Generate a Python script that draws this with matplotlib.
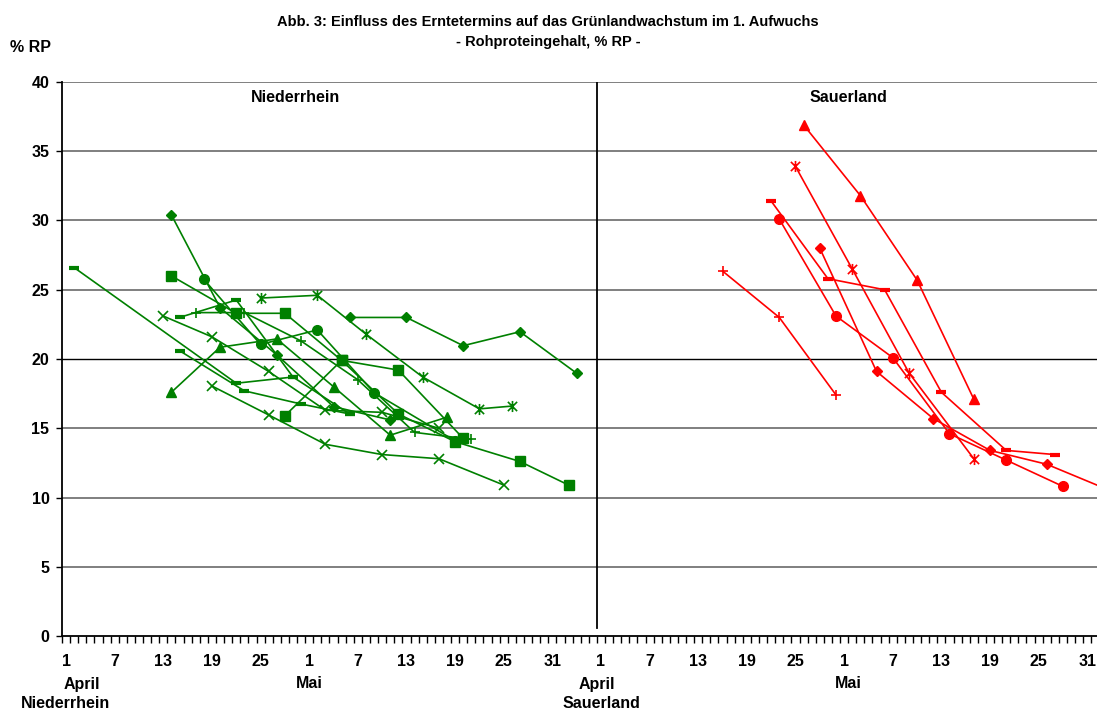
import matplotlib
matplotlib.use("Agg")
import matplotlib.pyplot as plt
from matplotlib.path import Path

plt.rcParams['font.family'] = ['Liberation Sans', 'DejaVu Sans']

# ---------------- data (x = running day index, 1 = 1 April Niederrhein, 67 = 1 April Sauerland)
tick_positions = [1, 7, 13, 19, 25, 31, 37, 43, 49, 55, 61,
                  67, 73, 79, 85, 91, 97, 103, 109, 115, 121, 127]
tick_labels = ["1", "7", "13", "19", "25", "1", "7", "13", "19", "25", "31",
               "1", "7", "13", "19", "25", "1", "7", "13", "19", "25", "31"]
y_ticks = [0, 5, 10, 15, 20, 25, 30, 35, 40]

# Niederrhein (green)
nr_diamond_a_x = [14, 20, 27, 34, 41]
nr_diamond_a_y = [30.4, 23.7, 20.3, 16.56, 15.6]
nr_diamond_b_x = [36, 43, 50, 57, 64]
nr_diamond_b_y = [23.0, 23.0, 20.96, 21.97, 18.97]
nr_square_a_x = [14, 22, 28, 35, 42, 49, 57, 63]
nr_square_a_y = [26.0, 23.3, 23.3, 19.9, 16.03, 14.03, 12.6, 10.9]
nr_square_b_x = [28, 35, 42, 50]
nr_square_b_y = [15.9, 19.9, 19.2, 14.27]
nr_triangle_x = [14, 20, 27, 34, 41, 48]
nr_triangle_y = [17.6, 20.85, 21.45, 18.0, 14.5, 15.8]
nr_x_a_x = [13, 19, 26, 33, 40, 47]
nr_x_a_y = [23.1, 21.6, 19.1, 16.3, 16.15, 15.0]
nr_x_b_x = [19, 26, 33, 40, 47, 55]
nr_x_b_y = [18.05, 15.96, 13.84, 13.1, 12.8, 10.9]
nr_star_x = [25, 32, 38, 45, 52, 56]
nr_star_y = [24.4, 24.6, 21.8, 18.7, 16.4, 16.6]
nr_circle_x = [18, 25, 32, 39, 49]
nr_circle_y = [25.75, 21.05, 22.1, 17.57, 14.1]
nr_plus_x = [17, 23, 30, 37, 44, 51]
nr_plus_y = [23.35, 23.35, 21.3, 18.5, 14.7, 14.2]
nr_dash_a_x = [2, 22, 29, 36]
nr_dash_a_y = [26.6, 18.25, 18.7, 16.03]
nr_dash_b_x = [15, 23, 30, 36]
nr_dash_b_y = [20.6, 17.7, 16.75, 16.03]
nr_dash_c_x = [15, 22, 29]
nr_dash_c_y = [23.0, 24.26, 18.7]

# Sauerland (red)
sl_triangle_x = [92, 99, 106, 113]
sl_triangle_y = [36.9, 31.8, 25.7, 17.1]
sl_star_x = [91, 98, 105, 113]
sl_star_y = [33.9, 26.5, 19.0, 12.8]
sl_dash_x = [88, 95, 102, 109, 117, 123]
sl_dash_y = [31.4, 25.8, 25.0, 17.6, 13.4, 13.1]
sl_circle_x = [89, 96, 103, 110, 117, 124]
sl_circle_y = [30.1, 23.1, 20.1, 14.6, 12.7, 10.8]
sl_diamond_x = [94, 101, 108, 115, 122, 129]
sl_diamond_y = [28.0, 19.1, 15.7, 13.4, 12.4, 10.7]
sl_plus_x = [82, 89, 96]
sl_plus_y = [26.35, 23.0, 17.4]

GREEN = "#008000"
RED = "#FF0000"

# Excel-like "star" marker: X with a vertical bar
star_path = Path([(-0.5, -0.5), (0.5, 0.5), (-0.5, 0.5), (0.5, -0.5), (0, -0.6), (0, 0.6)],
                 [Path.MOVETO, Path.LINETO, Path.MOVETO, Path.LINETO, Path.MOVETO, Path.LINETO])

styles = {
    "diamond": dict(marker="D", ms=5.5),
    "square": dict(marker="s", ms=6.5),
    "triangle": dict(marker="^", ms=7.5),
    "x": dict(marker="x", ms=6.5, mew=1.2),
    "star": dict(marker=star_path, ms=8, mew=1.2, mfc="none"),
    "circle": dict(marker="o", ms=7),
    "plus": dict(marker="+", ms=7.5, mew=1.2),
    "dash": dict(marker="_", ms=6.5, mew=3.0),
}

fig = plt.figure(figsize=(10.97, 7.11), dpi=100)
ax = fig.add_axes([62 / 1097, 75 / 711, 1 - 62 / 1097, 554 / 711])
ax.set_xlim(0.5, 128.2)
ax.set_ylim(0, 40)

for yv in y_ticks[1:]:
    if yv == 20:
        ax.axhline(yv, color="black", lw=1.0, zorder=0)
    else:
        ax.axhline(yv, color="#7f7f7f", lw=1.4, zorder=0)

ax.plot([66.5, 66.5], [0.6, 40], color="black", lw=1.3, zorder=1)


def draw(x, y, kind, color):
    st = dict(styles[kind])
    ax.plot(x, y, color=color, lw=1.2, mec=color,
            mfc=st.pop("mfc", color), zorder=3, **st)


green_series = [
    (nr_diamond_a_x, nr_diamond_a_y, "diamond"),
    (nr_diamond_b_x, nr_diamond_b_y, "diamond"),
    (nr_square_a_x, nr_square_a_y, "square"),
    (nr_square_b_x, nr_square_b_y, "square"),
    (nr_triangle_x, nr_triangle_y, "triangle"),
    (nr_x_a_x, nr_x_a_y, "x"),
    (nr_x_b_x, nr_x_b_y, "x"),
    (nr_star_x, nr_star_y, "star"),
    (nr_circle_x, nr_circle_y, "circle"),
    (nr_plus_x, nr_plus_y, "plus"),
    (nr_dash_a_x, nr_dash_a_y, "dash"),
    (nr_dash_b_x, nr_dash_b_y, "dash"),
    (nr_dash_c_x, nr_dash_c_y, "dash"),
]
red_series = [
    (sl_triangle_x, sl_triangle_y, "triangle"),
    (sl_star_x, sl_star_y, "star"),
    (sl_dash_x, sl_dash_y, "dash"),
    (sl_circle_x, sl_circle_y, "circle"),
    (sl_diamond_x, sl_diamond_y, "diamond"),
    (sl_plus_x, sl_plus_y, "plus"),
]
for x, y, k in green_series:
    draw(x, y, k, GREEN)
for x, y, k in red_series:
    draw(x, y, k, RED)

# axes styling
for s in ("top", "right"):
    ax.spines[s].set_visible(False)
ax.spines["left"].set_linewidth(1.3)
ax.spines["bottom"].set_linewidth(1.3)

ax.set_yticks(y_ticks)
ax.set_yticklabels([str(v) for v in y_ticks], fontsize=11.5, fontweight="bold")
ax.tick_params(axis="y", direction="out", length=4, width=1, pad=5)

ax.set_xticks(tick_positions)
ax.set_xticklabels(tick_labels, fontsize=11.5, fontweight="bold")
ax.set_xticks([k + 0.5 for k in range(0, 128)], minor=True)
ax.tick_params(axis="x", which="major", length=0, pad=13)
ax.tick_params(axis="x", which="minor", direction="out", length=5, width=1)


def ftext(px, py, s, size, ha="center"):
    fig.text(px / 1097, 1 - py / 711, s, fontsize=size, fontweight="bold",
             ha=ha, va="center")


ftext(548, 22, "Abb. 3: Einfluss des Erntetermins auf das Grünlandwachstum im 1. Aufwuchs", 10.5)
ftext(548, 42, "- Rohproteingehalt, % RP -", 10.5)
ftext(31, 47, "% RP", 11.5)
ftext(295, 97, "Niederrhein", 11.5)
ftext(848, 97, "Sauerland", 11.5)
ftext(82, 684, "April", 11.5)
ftext(309, 684, "Mai", 11.5)
ftext(597, 684, "April", 11.5)
ftext(848, 684, "Mai", 11.5)
ftext(66, 703, "Niederrhein", 11.5)
ftext(601, 703, "Sauerland", 11.5)

fig.savefig("out.png", dpi=100)
